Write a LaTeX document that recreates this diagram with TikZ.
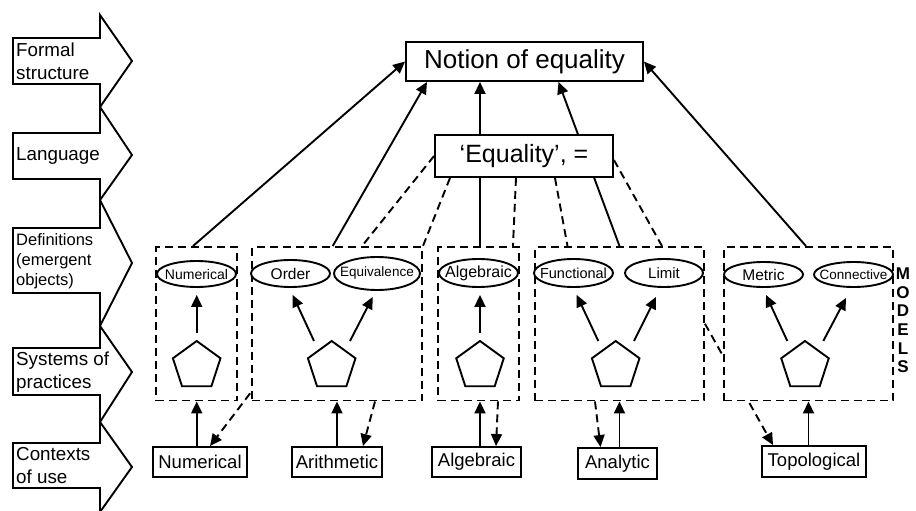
\documentclass[tikz,border=0pt]{standalone}
\usepackage{fontspec}
\setmainfont{Liberation Sans}
\usetikzlibrary{arrows.meta,shapes.geometric,calc}
\pgfdeclarelayer{bg}
\pgfsetlayers{bg,main}
\newcommand{\elltext}[1]{\makebox[0pt][c]{#1}}
\begin{document}
\begin{tikzpicture}[x=1pt,y=-1pt,
  lw/.style={line width=1.9pt},
  arr/.style={lw,-{Triangle[length=12pt,width=11pt]}},
  darr/.style={lw,dash pattern=on 8pt off 5pt,-{Triangle[length=12pt,width=11pt]}},
  dln/.style={lw,dash pattern=on 8pt off 5pt},
  grp/.style={draw,lw,dash pattern=on 8pt off 5pt,fill=white,minimum width=#1,minimum height=153.5pt,inner sep=0pt},
  ell/.style={draw,ellipse,lw,fill=white,inner sep=0pt,minimum height=27pt,minimum width=79pt},
  pent/.style={draw,regular polygon,regular polygon sides=5,minimum size=50pt,inner sep=0pt,lw},
  ctx/.style={draw,lw,fill=white,inner sep=0pt,minimum height=30pt,font=\fontsize{18.5}{20}\selectfont},
  band/.style={lw,line join=miter},
  bandtext/.style={anchor=west,align=left,inner sep=0pt,font=\fontsize{18.8}{23}\selectfont},
  bigbox/.style={draw,lw,fill=white,inner sep=0pt,font=\fontsize{26}{28}\selectfont},
]
\useasboundingbox (0,0) rectangle (916,511);

% level chevrons
\draw[band] (13,38) -- (100,38) -- (100,15) -- (132,61) -- (100,107) -- (100,84) -- (13,84) -- cycle;
\draw[band] (13,133) -- (100,133) -- (100,107) -- (132,155) -- (100,200) -- (100,179) -- (13,179) -- cycle;
\draw[band] (13,228) -- (100,228) -- (100,200) -- (132,263) -- (100,326) -- (100,293) -- (13,293) -- cycle;
\draw[band] (13,348) -- (100,348) -- (100,326) -- (132,372) -- (100,422) -- (100,395) -- (13,395) -- cycle;
\draw[band] (13,443) -- (100,443) -- (100,422) -- (132,467) -- (100,512) -- (100,488) -- (13,488) -- cycle;
\node[bandtext] (l1) at (16,61) {Formal\\structure};
\node[bandtext] (l2) at (16,156) {Language};
\node[bandtext,font=\fontsize{16.5}{20}\selectfont] (l3) at (16,261) {Definitions\\(emergent\\objects)};
\node[bandtext] (l4) at (16,372) {Systems of\\practices};
\node[bandtext] (l5) at (16,466) {Contexts\\of use};

% top boxes
\node[bigbox,minimum width=237pt,minimum height=39pt] (notion) at (524.5,61.5) {Notion of equality};
\node[bigbox,minimum width=178pt,minimum height=42pt,font=\fontsize{25}{28}\selectfont] (eq) at (524,156) {‘Equality’, =};

% group boxes
\node[grp=81pt] (g1) at (196.5,323.75) {};
\node[grp=170pt] (g2) at (337,323.75) {};
\node[grp=81pt] (g3) at (478.5,323.75) {};
\node[grp=169pt] (g4) at (619.5,323.75) {};
\node[grp=169pt] (g5) at (808.5,323.75) {};

% emergent objects
\node[ell,minimum height=26pt,font=\fontsize{14}{15}\selectfont] (e1) at (196.5,274) {\elltext{Numerical}};
\node[ell,font=\fontsize{15.5}{16}\selectfont] (e2) at (290.5,273.5) {\elltext{Order}};
\node[ell,minimum width=86pt,minimum height=33pt,font=\fontsize{13.5}{15}\selectfont] (e3) at (377,273.5) {\elltext{Equivalence}};
\node[ell,minimum height=28pt,font=\fontsize{16}{16}\selectfont] (e4) at (478.5,273) {\elltext{Algebraic}};
\node[ell,minimum height=28pt,font=\fontsize{14.5}{16}\selectfont] (e5) at (573.5,273) {\elltext{Functional}};
\node[ell,minimum width=78pt,minimum height=28pt,font=\fontsize{15}{16}\selectfont] (e6) at (664,273) {\elltext{Limit}};
\node[ell,minimum height=25pt,font=\fontsize{15.5}{16}\selectfont] (e7) at (763.5,274.5) {\elltext{Metric}};
\node[ell,minimum height=25pt,font=\fontsize{13.5}{15}\selectfont] (e8) at (853.5,274.5) {\elltext{Connective}};

% systems of practices
\node[pent] (p1) at (196.7,366) {};
\node[pent] (p2) at (331.7,366) {};
\node[pent] (p3) at (480,366) {};
\node[pent] (p4) at (615.7,366) {};
\node[pent] (p5) at (805,366) {};

% contexts of use
\node[ctx,minimum width=94pt] (cNum) at (200,462) {Numerical};
\node[ctx,minimum width=90pt] (cAri) at (337,462) {Arithmetic};
\node[ctx,minimum width=89pt] (cAlg) at (476.5,462) {Algebraic};
\node[ctx,minimum width=79pt,minimum height=31pt] (cAna) at (617.5,463.5) {Analytic};
\node[ctx,minimum width=104pt,minimum height=31pt] (cTop) at (814,461.5) {Topological};

% MODELS
\node[font=\bfseries\fontsize{17}{18.6}\selectfont,align=center,inner sep=0pt] (models) at (903,320.5) {M\\O\\D\\E\\L\\S};

% practices -> objects
\draw[arr] ($(p1)+(0,-33)$) -- ($(p1 |- e1.south)+(0,7)$);
\draw[arr] ($(p2)+(-17.7,-25)$) -- ($(e2.south)+(2.2,7)$);
\draw[arr] ($(p2)+(18.3,-25)$) -- ($(e3.south)+(-4.3,6)$);
\draw[arr] ($(p3)+(0,-33)$) -- ($(p3 |- e4.south)+(0,7)$);
\draw[arr] ($(p4)+(-17.4,-25)$) -- ($(e5.south)+(3.2,7)$);
\draw[arr] ($(p4)+(18.3,-25)$) -- ($(e6.south)+(-8,9)$);
\draw[arr] ($(p5)+(-17.7,-25)$) -- ($(e7.south)+(2.5,7)$);
\draw[arr] ($(p5)+(18.3,-25)$) -- ($(e8.south)+(-7.5,10)$);

% contexts -> practices
\draw[arr] (p1 |- cNum.north) -- (p1 |- g1.south);
\draw[arr] (cAri.north) -- (cAri.north |- g2.south);
\draw[arr] (p3 |- cAlg.north) -- (p3 |- g3.south);
\draw[arr] (g4.south |- cAna.north) -- (g4.south);
\draw[arr] (g5.south |- cTop.north) -- (g5.south);

\begin{pgfonlayer}{bg}
% definitions -> notion
\draw[arr] ($(g1.north)+(-3.5,0)$) -- (notion.west);
\draw[arr] ($(g2.north)+(-4.3,0)$) -- ($(notion.south)+(-97.5,0)$);
\draw[arr] ($(g3.north)+(1.5,0)$) -- ($(notion.south)+(-44.5,0)$);
\draw[arr] (g4.north) -- ($(notion.south)+(34,0)$);
\draw[arr] ($(g5.north)+(-2.5,0)$) -- (notion.east);
% language -> definitions
\draw[dln] (eq.west) -- ($(g2.north)+(25,0)$);
\draw[dln] ($(eq.south)+(-74,0)$) -- (g2.north east);
\draw[dln] ($(eq.south)+(-8,0)$) -- ($(g3.north east)+(-7,0)$);
\draw[dln] ($(eq.south)+(31,0)$) -- ($(g4.north)+(-52,0)$);
\draw[dln] ($(eq.east)+(0,4)$) -- ($(g4.north)+(42.5,0)$);
% practices -> contexts (dashed)
\coordinate (ndst) at (258,383);
\draw[darr] (ndst) -- ($(cNum.north)+(10,0)$);
\draw[darr] ($(g2.south)+(38,0)$) -- ($(cAri.north)+(26,0)$);
\draw[darr] ($(g3.south)+(19.5,0)$) -- ($(cAlg.north)+(19.5,0)$);
\draw[darr] ($(g4.south)+(-24.5,0)$) -- ($(cAna.north)+(-17,0)$);
\draw[darr] (g4.east) -- ($(cTop.north)+(-41,0)$);
\end{pgfonlayer}
\end{tikzpicture}
\end{document}
